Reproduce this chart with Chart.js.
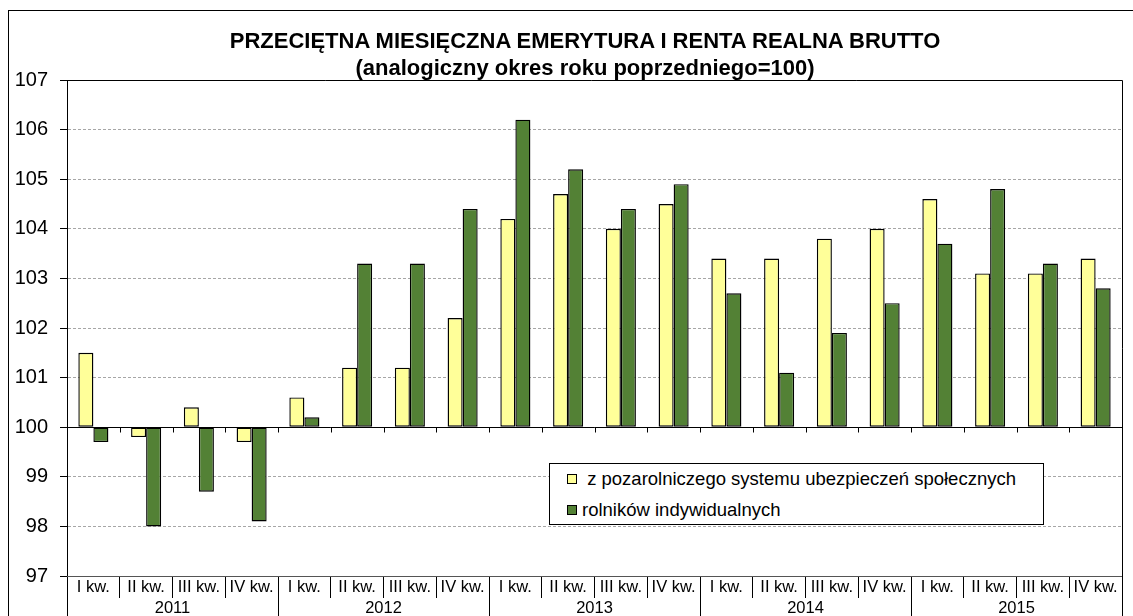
<!DOCTYPE html>
<html>
<head>
<meta charset="utf-8">
<script src="https://cdn.jsdelivr.net/npm/chart.js@4.4.0/dist/chart.umd.min.js"></script>
<style>
html, body { margin: 0; padding: 0; background: #fff; overflow: hidden; }
#wrap { position: relative; width: 1133px; height: 616px; overflow: hidden; font-family: "Liberation Sans", Arial, sans-serif; }
#frame { position: absolute; left: 8px; top: 10px; width: 1200px; height: 700px; border: 1px solid #000; }
#chart { position: absolute; left: 0; top: 0; }
#title { position: absolute; left: 85px; top: 27px; width: 1000px; text-align: center; font-weight: bold; font-size: 22px; line-height: 27px; color: #000; }
#legend { position: absolute; left: 549px; top: 463px; width: 493px; height: 60px; border: 1px solid #000; background: #fff; font-size: 18.5px; color: #000; }
#legend .row { position: absolute; left: 17px; height: 22px; display: flex; align-items: center; white-space: pre; }
#legend .sw { width: 8px; height: 8px; border: 1px solid #000; margin-right: 5px; }
</style>
</head>
<body>
<div id="wrap">
  <div id="frame"></div>
  <canvas id="chart" width="1133" height="616"></canvas>
  <div id="title">PRZECIĘTNA MIESIĘCZNA EMERYTURA I RENTA REALNA BRUTTO<br>(analogiczny okres roku poprzedniego=100)</div>
  <div id="legend"></div>
</div>
<script>
// dane - kwartały 2011-2015
var quarters = ['I kw.', 'II kw.', 'III kw.', 'IV kw.',
                'I kw.', 'II kw.', 'III kw.', 'IV kw.',
                'I kw.', 'II kw.', 'III kw.', 'IV kw.',
                'I kw.', 'II kw.', 'III kw.', 'IV kw.',
                'I kw.', 'II kw.', 'III kw.', 'IV kw.'];
var years = ['2011', '2012', '2013', '2014', '2015'];
var seriesNames = [' z pozarolniczego systemu ubezpieczeń społecznych', 'rolników indywidualnych'];
var pozarolniczy = [101.5, 99.8, 100.4, 99.7,
                    100.6, 101.2, 101.2, 102.2,
                    104.2, 104.7, 104.0, 104.5,
                    103.4, 103.4, 103.8, 104.0,
                    104.6, 103.1, 103.1, 103.4];
var rolnicy = [99.7, 98.0, 98.7, 98.1,
               100.2, 103.3, 103.3, 104.4,
               106.2, 105.2, 104.4, 104.9,
               102.7, 101.1, 101.9, 102.5,
               103.7, 104.8, 103.3, 102.8];
var yMin = 97, yMax = 107, yStep = 1, baseValue = 100;

Chart.defaults.font.family = '"Liberation Sans", Arial, sans-serif';
Chart.defaults.color = '#000';

// ramka wykresu, linia 100 i kreski na osi 100
var frameLines = {
  id: 'frameLines',
  beforeDatasetsDraw: function(chart) {
    var ctx = chart.ctx, a = chart.chartArea, x = chart.scales.x, y = chart.scales.y;
    var y100 = Math.round(y.getPixelForValue(baseValue)) + 0.5;
    var half = (x.getPixelForValue(1) - x.getPixelForValue(0)) / 2;
    ctx.save();
    ctx.strokeStyle = '#000';
    ctx.lineWidth = 1;
    ctx.beginPath();
    ctx.moveTo(a.left, y100);
    ctx.lineTo(a.right, y100);
    for (var i = 1; i < quarters.length; i++) {
      var px = Math.round(x.getPixelForValue(i) - half) + 0.5;
      ctx.moveTo(px, y100);
      ctx.lineTo(px, y100 + 5);
    }
    ctx.stroke();
    ctx.restore();
  },
  afterDraw: function(chart) {
    var ctx = chart.ctx, a = chart.chartArea;
    ctx.save();
    ctx.strokeStyle = '#000';
    ctx.lineWidth = 1;
    ctx.beginPath();
    ctx.moveTo(Math.round(a.left) - 7, Math.round(a.top) + 0.5);
    ctx.lineTo(Math.round(a.right) + 0.5, Math.round(a.top) + 0.5);
    ctx.lineTo(Math.round(a.right) + 0.5, chart.height);
    ctx.stroke();
    ctx.restore();
  }
};

var chart = new Chart(document.getElementById('chart'), {
  type: 'bar',
  data: {
    labels: quarters,
    datasets: [{
      label: seriesNames[0],
      data: pozarolniczy,
      base: baseValue,
      backgroundColor: '#FFFF99',
      borderColor: '#000',
      borderWidth: 1.4,
      borderSkipped: false
    }, {
      label: seriesNames[1],
      data: rolnicy,
      base: baseValue,
      backgroundColor: '#538135',
      borderColor: '#000',
      borderWidth: 1.4,
      borderSkipped: false
    }]
  },
  options: {
    responsive: false,
    animation: false,
    layout: { padding: { top: 80, right: 11, left: 0, bottom: 0 } },
    categoryPercentage: 0.57,
    barPercentage: 1.0,
    plugins: {
      legend: { display: false },
      title: { display: false },
      tooltip: { enabled: false }
    },
    scales: {
      y: {
        min: yMin,
        max: yMax,
        ticks: { stepSize: yStep, padding: 12, font: { size: 20 }, color: '#000' },
        grid: { color: '#a6a6a6', tickColor: '#000', tickLength: 7, tickBorderDash: [] },
        border: { color: '#000', dash: [3, 2] },
        afterFit: function(s) { s.width = 67; s.paddingTop = 0; s.paddingBottom = 0; }
      },
      x: {
        weight: 0,
        ticks: { autoSkip: false, maxRotation: 0, padding: -20, font: { size: 16.5 }, color: '#000' },
        grid: { offset: true, drawOnChartArea: false, tickLength: 22, color: '#000', tickColor: '#000' },
        border: { color: '#555' },
        afterFit: function(s) { s.height = 22; s.paddingLeft = 0; s.paddingRight = 0; }
      },
      x2: {
        type: 'category',
        position: 'bottom',
        weight: 1,
        labels: years,
        ticks: { autoSkip: false, maxRotation: 0, padding: -17, font: { size: 16.5 }, color: '#000' },
        grid: { offset: true, drawOnChartArea: false, tickLength: 18, color: '#000', tickColor: '#000' },
        border: { display: false },
        afterFit: function(s) { s.height = 18; s.paddingLeft = 0; s.paddingRight = 0; }
      }
    }
  },
  plugins: [frameLines]
});

// legenda w polu wykresu
var legend = document.getElementById('legend');
chart.data.datasets.forEach(function(ds, i) {
  var row = document.createElement('div');
  row.className = 'row';
  row.style.top = (4 + i * 31) + 'px';
  var sw = document.createElement('span');
  sw.className = 'sw';
  sw.style.background = ds.backgroundColor;
  var txt = document.createElement('span');
  txt.textContent = ds.label;
  row.appendChild(sw);
  row.appendChild(txt);
  legend.appendChild(row);
});
</script>
</body>
</html>
